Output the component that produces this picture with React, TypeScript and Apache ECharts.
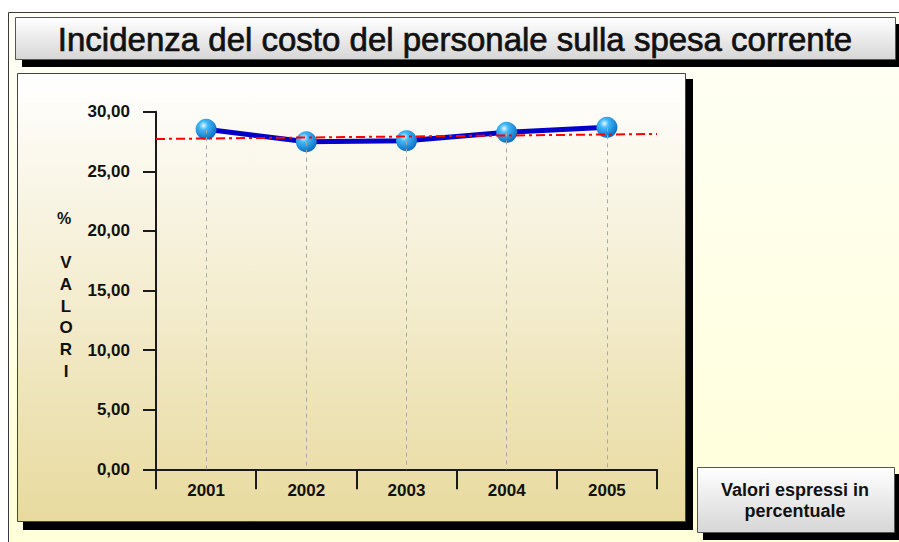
import React, { useEffect, useRef } from "react";
import * as echarts from "echarts";

const categories = ["2001", "2002", "2003", "2004", "2005"];
const values = [28.52, 27.48, 27.57, 28.27, 28.69];
const trendX = [0, 5];
const trendY = [27.71, 28.13];
const yTicks = { min: 0, max: 30, interval: 5 };
const titleText = "Incidenza del costo del personale sulla spesa corrente";
const noteText = "Valori espressi in\npercentuale";
const axisNameTop = "%";
const axisNameLetters = ["V", "A", "L", "O", "R", "I"];

const FONT = "'Liberation Sans', Arial, sans-serif";

export default function App() {
  const ref = useRef<HTMLDivElement>(null);
  useEffect(() => {
    if (!ref.current) return;
    const chart = echarts.init(ref.current, null, { renderer: "svg" });
    const lg = (stops: [number, string][]) => ({
      type: "linear",
      x: 0,
      y: 0,
      x2: 0,
      y2: 1,
      colorStops: stops.map(([offset, color]) => ({ offset, color })),
    });
    const graphic: any[] = [
      {
        type: "rect",
        z: -20,
        shape: { x: 8.5, y: 12.5, width: 900, height: 540 },
        style: { fill: lg([[0, "#FFFFF6"], [1, "#FFFFD8"]]), stroke: "#3a3a3a", lineWidth: 1 },
      },
      {
        type: "rect",
        z: -19,
        shape: { x: 22, y: 24, width: 881, height: 43 },
        style: { fill: "#000" },
      },
      {
        type: "rect",
        z: -18,
        shape: { x: 15.5, y: 17.5, width: 880, height: 42 },
        style: { fill: lg([[0, "#FFFFFF"], [1, "#D6D6D6"]]), stroke: "#555", lineWidth: 1 },
      },
      {
        type: "rect",
        z: -19,
        shape: { x: 23, y: 79, width: 670, height: 451 },
        style: { fill: "#000" },
      },
      {
        type: "rect",
        z: -18,
        shape: { x: 17.5, y: 73.5, width: 668, height: 448 },
        style: { fill: lg([[0, "#FFFFFF"], [1, "#E8DA9E"]]), stroke: "#444", lineWidth: 1 },
      },
      {
        type: "rect",
        z: -19,
        shape: { x: 703, y: 474, width: 198, height: 66 },
        style: { fill: "#000" },
      },
      {
        type: "rect",
        z: -18,
        shape: { x: 697.5, y: 467.5, width: 197, height: 65 },
        style: { fill: lg([[0, "#FFFFFF"], [1, "#D6D6D6"]]), stroke: "#555", lineWidth: 1 },
      },
      {
        type: "text",
        z: 10,
        x: 455,
        y: 39,
        style: {
          text: titleText,
          font: `normal 33px ${FONT}`,
          fill: "#111",
          stroke: "#111",
          lineWidth: 0.7,
          align: "center",
          verticalAlign: "middle",
        },
      },
      {
        type: "text",
        z: 10,
        x: 795,
        y: 500,
        style: {
          text: noteText,
          font: `bold 18px ${FONT}`,
          fill: "#111",
          align: "center",
          verticalAlign: "middle",
          lineHeight: 21,
        },
      },
      {
        type: "text",
        z: 10,
        x: 64,
        y: 218,
        style: {
          text: axisNameTop,
          font: `bold 16px ${FONT}`,
          fill: "#111",
          align: "center",
          verticalAlign: "middle",
        },
      },
      {
        type: "text",
        z: 10,
        x: 66,
        y: 317,
        style: {
          text: axisNameLetters.join("\n"),
          font: `bold 17px ${FONT}`,
          fill: "#111",
          align: "center",
          verticalAlign: "middle",
          lineHeight: 21.8,
        },
      },
    ];

    const option: any = {
      animation: false,
      backgroundColor: "#FFFFFF",
      graphic,
      grid: { left: 156, top: 111.7, width: 501, height: 357.6 },
      xAxis: [
        {
          type: "category",
          data: categories,
          boundaryGap: true,
          axisLine: { lineStyle: { color: "#1a1a1a", width: 2 } },
          axisTick: { show: true, length: 20, lineStyle: { color: "#1a1a1a", width: 2 } },
          axisLabel: {
            color: "#111",
            fontFamily: FONT,
            fontWeight: "bold",
            fontSize: 17,
            margin: 13,
          },
          splitLine: { show: false },
        },
        {
          type: "value",
          min: 0,
          max: 5,
          show: false,
          splitLine: { show: false },
        },
      ],
      yAxis: {
        type: "value",
        min: yTicks.min,
        max: yTicks.max,
        interval: yTicks.interval,
        axisLine: { show: true, lineStyle: { color: "#1a1a1a", width: 2 } },
        axisTick: { show: true, length: 13, lineStyle: { color: "#1a1a1a", width: 2 } },
        axisLabel: {
          color: "#111",
          fontFamily: FONT,
          fontWeight: "bold",
          fontSize: 17,
          margin: 26,
          formatter: (v: number) => v.toFixed(2).replace(".", ","),
        },
        splitLine: { show: false },
      },
      series: [
        {
          type: "line",
          data: [],
          xAxisIndex: 0,
          silent: true,
          markLine: {
            silent: true,
            symbol: "none",
            label: { show: false },
            lineStyle: { color: "#A8A8A8", type: [4, 4], width: 1 },
            data: categories.map((c, i) => [
              { coord: [c, values[i]] },
              { coord: [c, 0] },
            ]),
          },
        },
        {
          type: "line",
          xAxisIndex: 0,
          data: values,
          symbol: "circle",
          symbolSize: 21,
          lineStyle: { color: "#0000C8", width: 5 },
          itemStyle: {
            color: {
              type: "radial",
              x: 0.38,
              y: 0.32,
              r: 0.7,
              colorStops: [
                { offset: 0, color: "#E4F6FF" },
                { offset: 0.3, color: "#40B8F8" },
                { offset: 1, color: "#0A6CC2" },
              ],
            },
            borderWidth: 0,
          },
          z: 3,
        },
        {
          type: "line",
          xAxisIndex: 1,
          data: trendX.map((x, i) => [x, trendY[i]]),
          symbol: "none",
          lineStyle: { color: "#FF0000", width: 2, type: [9, 4, 3, 4] },
          z: 4,
        },
      ],
    };
    chart.setOption(option);
    return () => chart.dispose();
  }, []);
  return (
    <div
      ref={ref}
      style={{ position: "absolute", left: 0, top: 0, width: 899, height: 542 }}
    />
  );
}
